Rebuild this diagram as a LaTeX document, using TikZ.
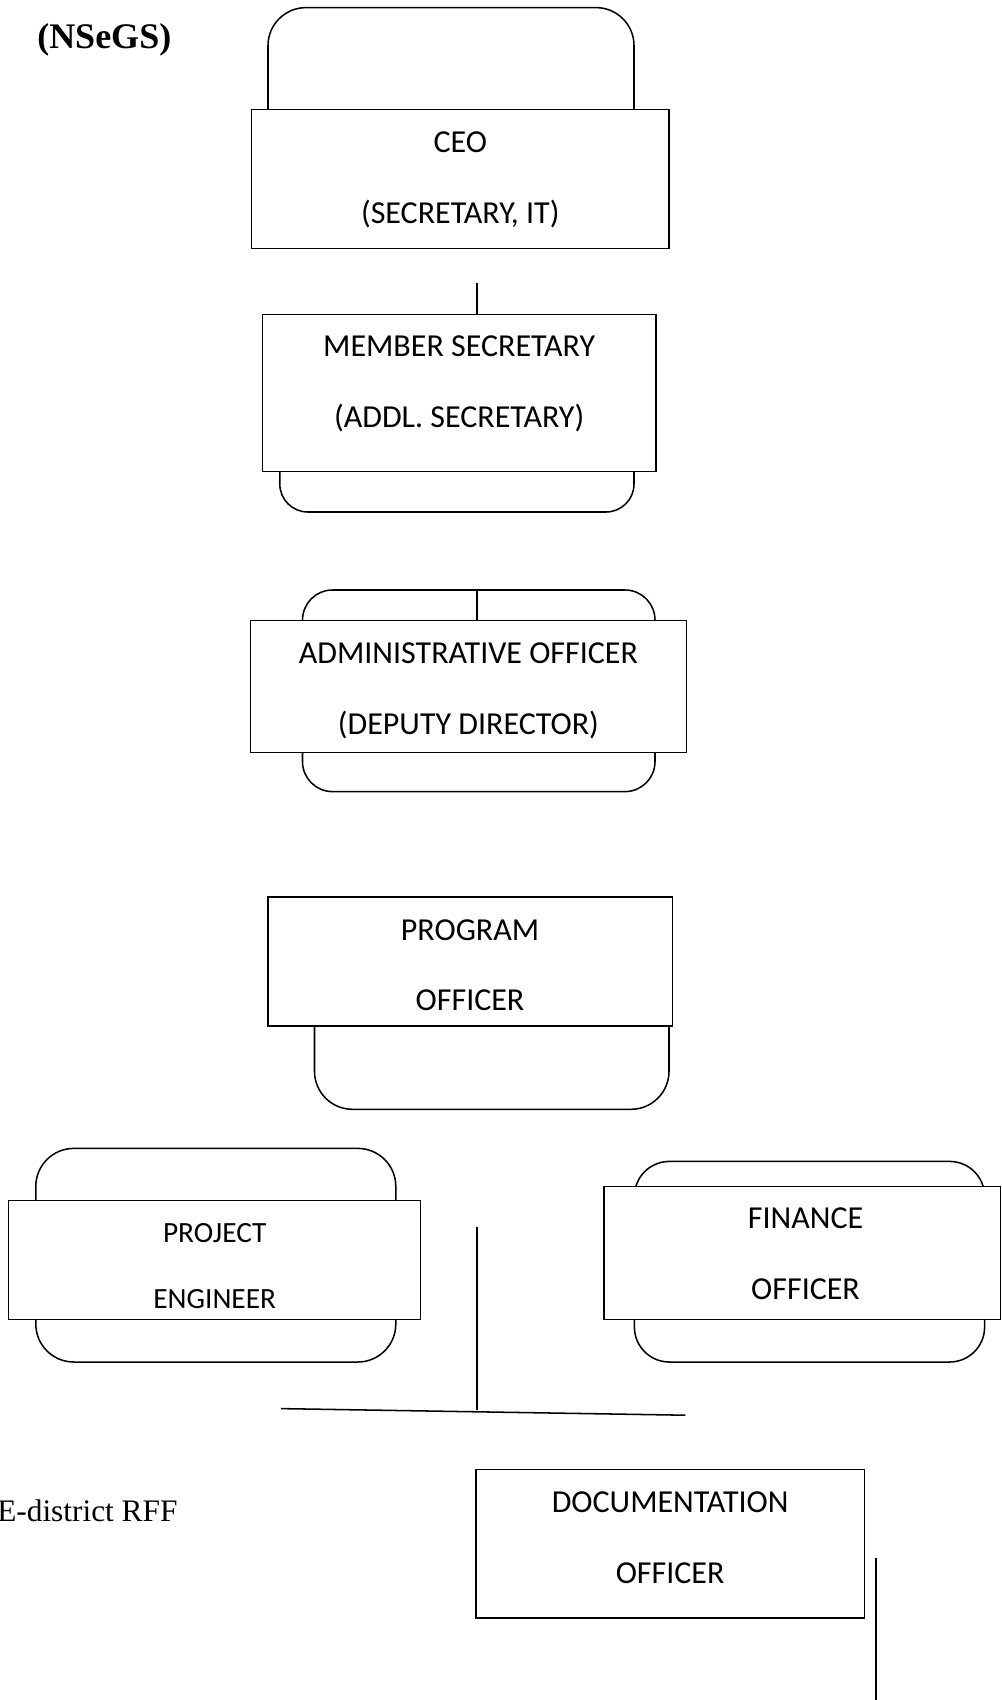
\documentclass[tikz,border=0pt]{standalone}
\usepackage{fontspec}
\usetikzlibrary{calc}
\newfontfamily\calib{Carlito}
\newfontfamily\tms{Liberation Serif}
\def\pxu{0.75pt}
\tikzset{
  lw/.style={line width=1.15pt},
  orgbox/.style={lw, draw=black, fill=white, rectangle, inner sep=0pt, outer sep=0pt},
  orgtext/.style={inner sep=0pt, outer sep=0pt, align=center,
    font=\calib\fontsize{24}{53}\selectfont},
  backshape/.style={lw, draw=black, fill=white, rectangle, inner sep=0pt, outer sep=0pt},
  wh/.style 2 args={minimum width=#1*\pxu, minimum height=#2*\pxu},
  conn/.style={lw, draw=black}
}
\begin{document}
\begin{tikzpicture}[x=0.75pt, y=-0.75pt]
\useasboundingbox (0,0) rectangle (1002,1700);

% title and side text
\node[anchor=base west, inner sep=0pt, font=\tms\bfseries\fontsize{27}{32}\selectfont] (title) at (37,48) {(NSeGS)};
\node[anchor=base west, inner sep=0pt, font=\tms\fontsize{23.5}{28}\selectfont] (rff) at (-3,1521) {E-district RFF};

% back shapes (rounded)
\node[backshape, wh={366}{142.4}, rounded corners=38*\pxu] (ceoback) at (451,78.8) {};
\node[backshape, wh={354.2}{92}, rounded corners=28*\pxu] (msback) at (456.9,466) {};
\node[backshape, wh={352.5}{201.6}, rounded corners=30*\pxu] (aoback) at (478.75,690.8) {};
\node[backshape, wh={354.5}{149.3}, rounded corners=38*\pxu] (poback) at (491.75,1034.65) {};
\node[backshape, wh={360}{213.6}, rounded corners=38*\pxu] (peback) at (215.8,1255.2) {};
\node[backshape, wh={350.2}{200.6}, rounded corners=35*\pxu] (fiback) at (809.5,1261.7) {};

% boxes
\node[orgbox, wh={417.4}{138.8}] (ceo) at (460.3,178.9) {};
\node[orgbox, wh={393.6}{157.2}] (ms) at (459.2,393.1) {};
\node[orgbox, wh={435.9}{132.3}] (ao) at (468.45,686.45) {};
\node[orgbox, wh={404.5}{129}] (po) at (470.05,961.3) {};
\node[orgbox, wh={412}{119.3}] (pe) at (214.7,1260.05) {};
\node[orgbox, wh={396.5}{133.4}] (fi) at (802.25,1253) {};
\node[orgbox, wh={388.3}{148.6}] (doc) at (670.15,1543.7) {};

% box texts
\node[orgtext] (ceot) at ($(ceo.center)+(0,1)$) {CEO\\(SECRETARY, IT)};
\node[orgtext] (mst) at ($(ms.center)+(0,-9.2)$) {MEMBER SECRETARY\\(ADDL. SECRETARY)};
\node[orgtext] (aot) at ($(ao.center)+(0,4.3)$) {ADMINISTRATIVE OFFICER\\(DEPUTY DIRECTOR)};
\node[orgtext] (pot) at ($(po.center)+(0,3.8)$) {PROGRAM\\OFFICER};
\node[orgtext, font=\calib\fontsize{22}{50}\selectfont] (pet) at ($(pe.center)+(0,6)$) {PROJECT\\ENGINEER};
\node[orgtext] (fit) at ($(fi.center)+(3.3,1)$) {FINANCE\\OFFICER};
\node[orgtext] (doct) at ($(doc.center)+(0,-6)$) {DOCUMENTATION\\OFFICER};

% connectors
\coordinate (stubtop) at (477,283);
\draw[conn] (stubtop) -- (stubtop |- ms.north);
\coordinate (aotop) at (477,590);
\draw[conn] (aotop) -- (aotop |- ao.north);
\coordinate (jtop) at (477,1226.5);
\coordinate (jbot) at (477,1409.7);
\draw[conn] (jtop) -- (jbot);
\coordinate (hl) at (280.9,1408.6);
\coordinate (hr) at (685.3,1415.2);
\draw[conn] (hl) -- (hr);
\coordinate (dtop) at (876.2,1558.3);
\coordinate (dbot) at (876.2,1700);
\draw[conn] (dtop) -- (dbot);
\end{tikzpicture}
\end{document}
